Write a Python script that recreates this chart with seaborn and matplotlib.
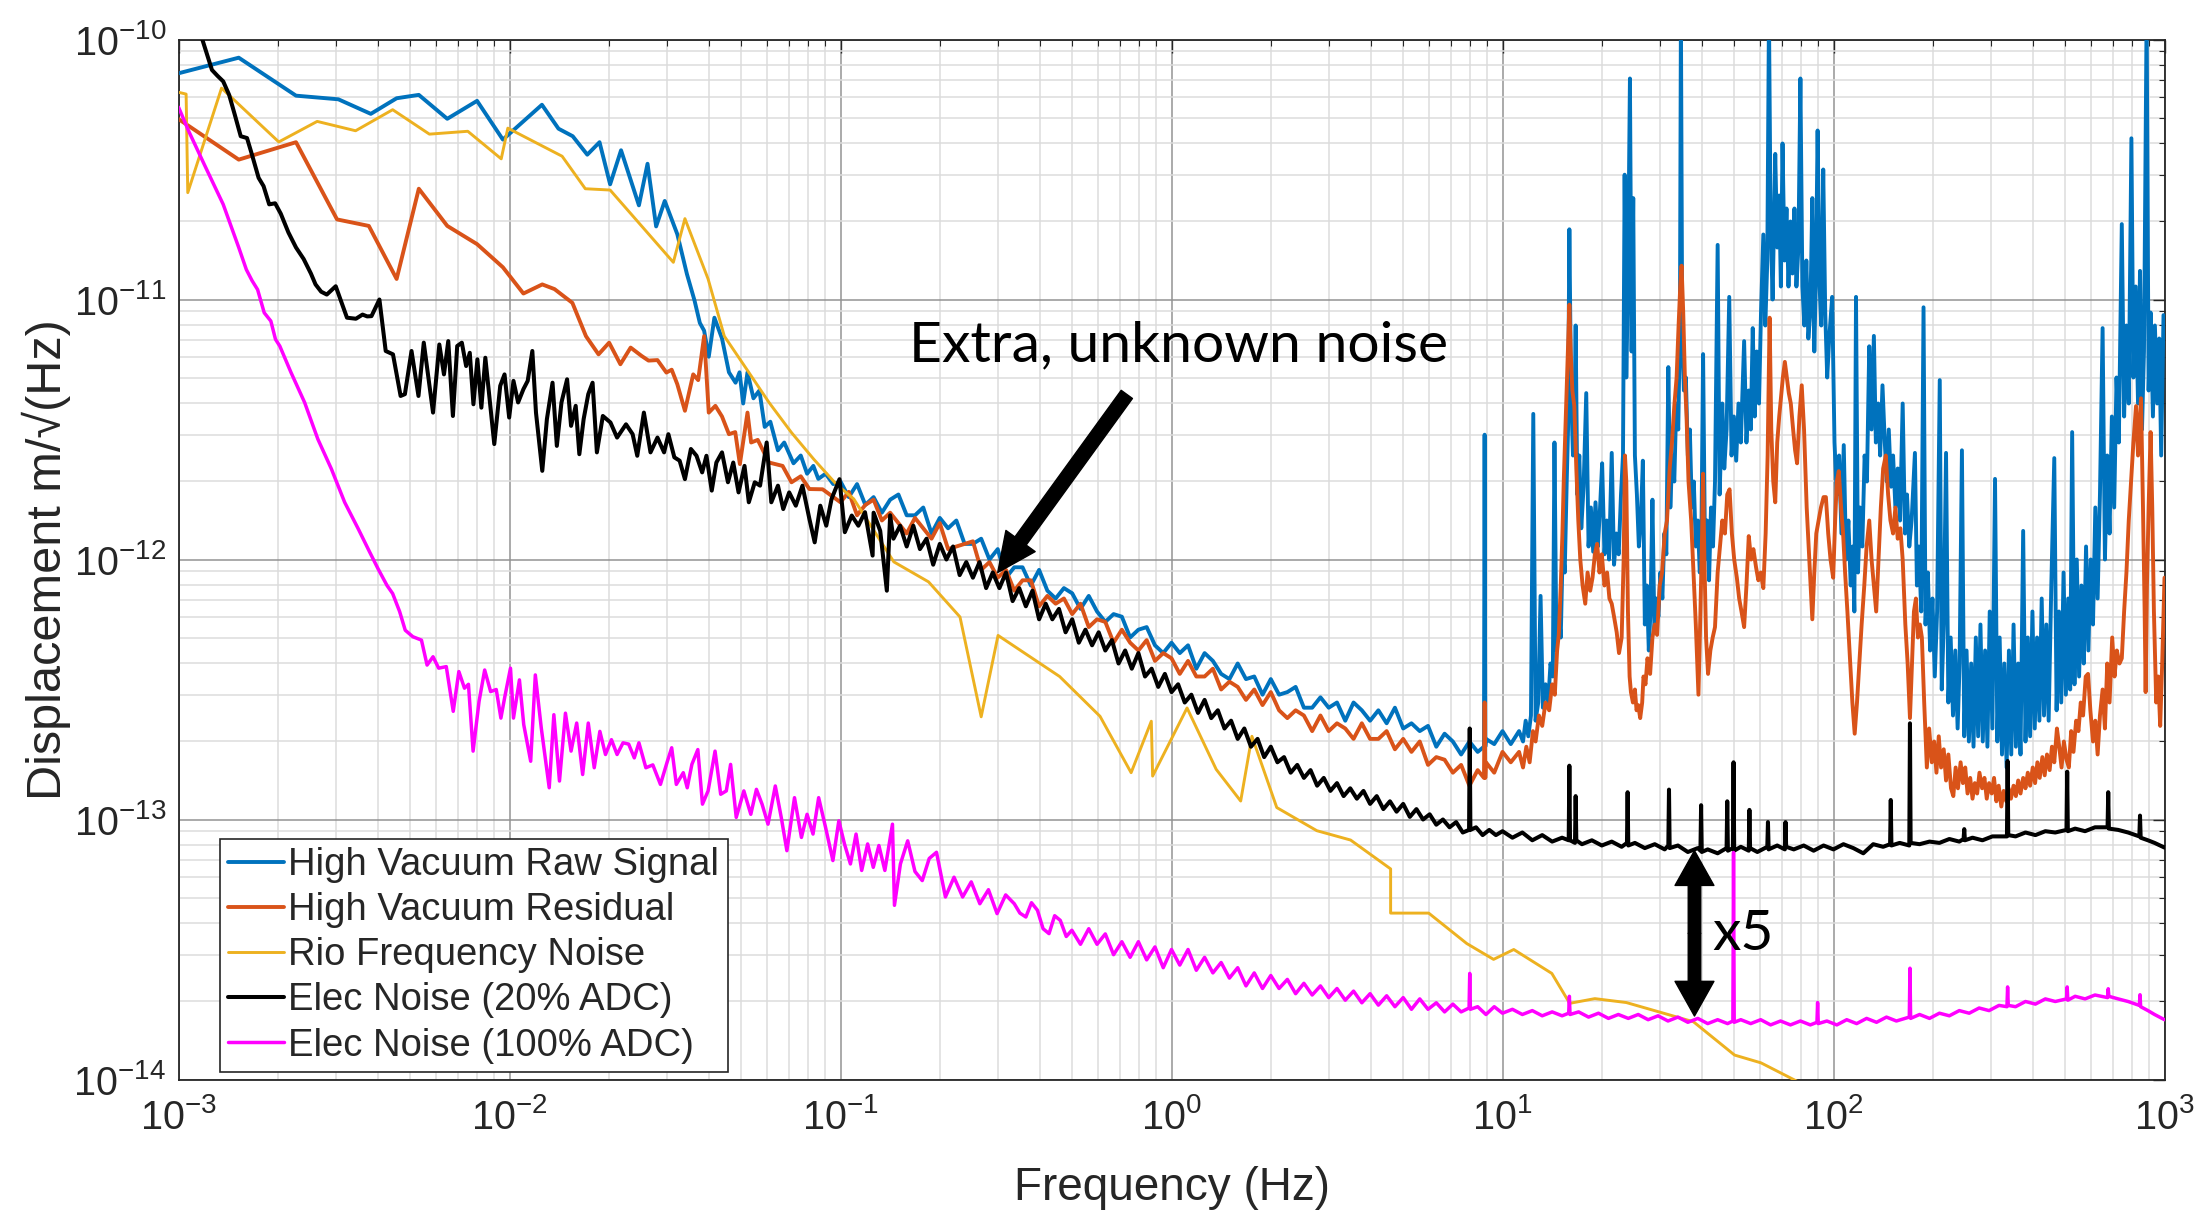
import numpy as np
import matplotlib
matplotlib.use("Agg")
import matplotlib.pyplot as plt
from matplotlib.patches import FancyArrowPatch
from matplotlib.ticker import LogLocator, LogFormatterSciNotation, NullFormatter
import seaborn as sns

# Spectra as (log10 frequency [Hz], log10 displacement [m/sqrt(Hz)]) pairs

raw_low = [(-3.000,-10.130),(-2.818,-10.070),(-2.645,-10.216),(-2.517,-10.230),(-2.419,-10.286),
    (-2.341,-10.226),(-2.274,-10.213),(-2.188,-10.305),(-2.098,-10.236),(-2.020,-10.385),(-1.902,-10.251),
    (-1.852,-10.343),(-1.809,-10.372),(-1.765,-10.443),(-1.728,-10.395),(-1.696,-10.557),(-1.663,-10.426),
    (-1.609,-10.638),(-1.583,-10.478),(-1.557,-10.719),(-1.531,-10.621),(-1.493,-10.749),(-1.464,-10.902),
    (-1.441,-11.004),(-1.425,-11.09),(-1.412,-11.12),(-1.398,-11.22),(-1.381,-11.07),(-1.358,-11.15),
    (-1.337,-11.28),(-1.317,-11.32),(-1.305,-11.28),(-1.294,-11.40),(-1.281,-11.28),(-1.263,-11.38),
    (-1.245,-11.35),(-1.229,-11.49),(-1.212,-11.47),(-1.189,-11.58),(-1.170,-11.55),(-1.142,-11.63),
    (-1.120,-11.60),(-1.101,-11.67),(-1.082,-11.64),(-1.067,-11.69),(-1.045,-11.67),(-1.022,-11.71)]

raw_mid = [(-1.000,-11.70),(-0.975,-11.76),(-0.950,-11.71),(-0.925,-11.79),(-0.900,-11.76),(-0.875,-11.82),
    (-0.850,-11.77),(-0.825,-11.75),(-0.800,-11.83),(-0.775,-11.83),(-0.750,-11.80),(-0.725,-11.90),
    (-0.700,-11.84),(-0.675,-11.88),(-0.650,-11.85),(-0.625,-11.94),(-0.600,-11.94),(-0.575,-11.92),
    (-0.550,-12.00),(-0.525,-11.96),(-0.500,-12.07),(-0.475,-12.03),(-0.450,-12.03),(-0.425,-12.10),
    (-0.400,-12.04),(-0.375,-12.12),(-0.350,-12.15),(-0.325,-12.11),(-0.300,-12.13),(-0.275,-12.19),
    (-0.250,-12.14),(-0.225,-12.20),(-0.200,-12.24),(-0.175,-12.21),(-0.150,-12.22),(-0.125,-12.30),
    (-0.100,-12.27),(-0.075,-12.26),(-0.050,-12.33),(-0.025,-12.36),(0.000,-12.32),(0.025,-12.36),
    (0.050,-12.33),(0.075,-12.42),(0.100,-12.36),(0.125,-12.39),(0.150,-12.44),(0.175,-12.46),
    (0.200,-12.40),(0.225,-12.46),(0.250,-12.45),(0.275,-12.52),(0.300,-12.46),(0.325,-12.52),
    (0.350,-12.51),(0.375,-12.49),(0.400,-12.57),(0.425,-12.57),(0.450,-12.53),(0.475,-12.57),
    (0.500,-12.55),(0.525,-12.62),(0.550,-12.55),(0.575,-12.58),(0.600,-12.62),(0.625,-12.58),
    (0.650,-12.63),(0.675,-12.57),(0.700,-12.65),(0.725,-12.63),(0.750,-12.66),(0.775,-12.64),
    (0.800,-12.72),(0.825,-12.67),(0.850,-12.70),(0.875,-12.75),(0.900,-12.70),(0.925,-12.74),
    (0.944,-12.72),(0.946,-11.52),(0.948,-12.72),(0.950,-12.69),(0.975,-12.71),(1.000,-12.66),
    (1.025,-12.71),(1.050,-12.66)]

raw_high = [(1.062,-12.70),(1.070,-12.62),(1.078,-12.68),(1.086,-12.60),(1.093,-11.44),(1.100,-12.62),
    (1.108,-12.55),(1.115,-12.14),(1.122,-12.57),(1.130,-12.48),(1.138,-12.55),(1.145,-12.40),(1.152,-12.45),
    (1.157,-11.55),(1.163,-12.35),(1.170,-12.20),(1.176,-12.30),(1.182,-11.95),(1.188,-12.05),(1.194,-11.70),
    (1.198,-11.50),(1.202,-10.73),(1.207,-11.35),(1.213,-11.60),(1.218,-11.40),(1.221,-11.10),(1.226,-11.75),
    (1.232,-11.60),(1.238,-11.88),(1.245,-11.72),(1.253,-11.36),(1.260,-11.95),(1.267,-11.80),(1.274,-11.97),
    (1.281,-11.78),(1.288,-11.95),(1.294,-11.82),(1.301,-11.63),(1.308,-11.98),(1.315,-11.85),(1.322,-12.00),
    (1.330,-11.59),(1.337,-12.02),(1.344,-11.90),(1.351,-11.98),(1.358,-11.75),(1.364,-11.60),(1.369,-10.52),
    (1.374,-11.30),(1.379,-10.95),(1.385,-10.15),(1.390,-11.20),(1.395,-10.61),(1.400,-11.60),(1.406,-11.75),
    (1.412,-11.95),(1.418,-11.85),(1.424,-11.62),(1.430,-12.25),(1.436,-12.10),(1.442,-12.35),(1.447,-12.20),
    (1.453,-11.77),(1.459,-12.28),(1.465,-12.15),(1.471,-12.22),(1.477,-12.05),(1.483,-12.15),(1.489,-11.90),
    (1.495,-11.98),(1.501,-11.26),(1.507,-11.80),(1.513,-11.60),(1.519,-11.70),(1.525,-11.40),(1.531,-11.50),
    (1.536,-11.10),(1.539,-9.90),(1.543,-11.15),(1.548,-11.35),(1.554,-11.30),(1.560,-11.60),(1.566,-11.50),
    (1.572,-11.80),(1.578,-11.70),(1.584,-11.95),(1.590,-11.85),(1.596,-12.05),(1.601,-11.90),(1.606,-11.21),
    (1.612,-12.00),(1.618,-11.85),(1.624,-12.08),(1.630,-11.80),(1.636,-11.95),(1.642,-11.70),(1.650,-10.79),
    (1.656,-11.75),(1.664,-11.40),(1.670,-11.65),(1.677,-11.50),(1.685,-10.99),(1.692,-11.60),(1.699,-11.45),
    (1.706,-11.62),(1.713,-11.40),(1.720,-11.55),(1.730,-11.16),(1.737,-11.55),(1.744,-11.35),(1.750,-11.50),
    (1.756,-11.11),(1.762,-11.45),(1.768,-11.20),(1.775,-11.40),(1.781,-11.05),(1.788,-10.75),(1.794,-11.10),
    (1.800,-10.85),(1.805,-9.90),(1.810,-10.70),(1.816,-11.00),(1.824,-10.44),(1.830,-10.80),(1.836,-10.60),
    (1.841,-10.95),(1.846,-10.40),(1.852,-10.85),(1.858,-10.65),(1.864,-10.95),(1.870,-10.70),(1.876,-10.90),
    (1.882,-10.65),(1.888,-10.95),(1.894,-10.80),(1.900,-10.15),(1.906,-10.95),(1.912,-11.10),(1.918,-10.85),
    (1.924,-11.15),(1.930,-11.05),(1.936,-10.61),(1.942,-11.20),(1.947,-10.90),(1.952,-10.35),(1.958,-10.95),
    (1.963,-11.10),(1.969,-10.50),(1.975,-11.05),(1.981,-11.30),(1.987,-11.15),(1.996,-10.99),(2.003,-11.55),
    (2.010,-11.75),(2.017,-11.60),(2.024,-11.90),(2.031,-11.56),(2.038,-12.00),(2.045,-11.85),(2.052,-12.10),
    (2.058,-11.95),(2.063,-12.20),(2.068,-10.99),(2.074,-12.05),(2.080,-11.80),(2.087,-11.95),(2.094,-11.60),
    (2.101,-11.70),(2.108,-11.18),(2.115,-11.50),(2.122,-11.14),(2.128,-11.55),(2.135,-11.40),(2.141,-11.60),
    (2.148,-11.33),(2.155,-11.55),(2.161,-11.70),(2.167,-11.50),(2.174,-11.72),(2.180,-11.60),(2.187,-11.80),
    (2.194,-11.65),(2.201,-11.85),(2.209,-11.40),(2.216,-11.90),(2.222,-11.75),(2.229,-11.95),(2.236,-11.85),
    (2.246,-11.59),(2.252,-12.10),(2.258,-11.95),(2.265,-12.20),(2.272,-11.03),(2.278,-12.25),(2.285,-12.05),
    (2.292,-12.35),(2.299,-12.15),(2.306,-12.45),(2.313,-12.20),(2.321,-11.31),(2.327,-12.50),(2.333,-12.25),
    (2.340,-11.59),(2.347,-12.55),(2.354,-12.30),(2.361,-12.60),(2.368,-12.35),(2.375,-12.65),(2.381,-12.40),
    (2.388,-11.58),(2.395,-12.68),(2.402,-12.35),(2.409,-12.70),(2.416,-12.40),(2.423,-12.72),(2.430,-12.30),
    (2.437,-12.68),(2.444,-12.25),(2.451,-12.70),(2.458,-12.35),(2.465,-12.72),(2.472,-12.20),(2.480,-12.65),
    (2.488,-11.69),(2.495,-12.70),(2.502,-12.30),(2.509,-12.75),(2.516,-12.40),(2.523,-12.80),(2.530,-12.35),
    (2.537,-12.75),(2.544,-12.25),(2.551,-12.72),(2.558,-12.40),(2.565,-12.75),(2.573,-11.89),(2.580,-12.70),
    (2.587,-12.30),(2.594,-12.68),(2.601,-12.20),(2.608,-12.65),(2.615,-12.30),(2.622,-12.62),(2.629,-12.15),
    (2.636,-12.60),(2.643,-12.25),(2.650,-12.62),(2.658,-12.10),(2.667,-11.61),(2.674,-12.58),(2.681,-12.20),
    (2.688,-12.55),(2.695,-12.05),(2.702,-12.52),(2.709,-12.15),(2.715,-12.50),(2.721,-11.51),(2.728,-12.48),
    (2.735,-12.00),(2.742,-12.45),(2.749,-12.10),(2.756,-12.40),(2.763,-11.95),(2.770,-12.35),(2.777,-12.00),
    (2.784,-12.25),(2.791,-11.80),(2.798,-12.15),(2.805,-11.75),(2.813,-11.11),(2.820,-12.00),(2.827,-11.60),
    (2.834,-11.90),(2.841,-11.45),(2.848,-11.80),(2.855,-11.30),(2.862,-11.55),(2.871,-10.71),(2.878,-11.45),
    (2.885,-11.10),(2.892,-11.40),(2.900,-10.38),(2.906,-11.30),(2.913,-10.95),(2.920,-11.40),(2.926,-10.89),
    (2.932,-11.50),(2.938,-11.20),(2.946,-9.90),(2.952,-11.35),(2.958,-11.05),(2.965,-11.45),(2.971,-11.10),
    (2.978,-11.40),(2.984,-11.15),(2.990,-11.60),(2.997,-11.06)]

resid_low = [(-3.000,-10.306),(-2.818,-10.462),(-2.645,-10.395),(-2.521,-10.692),(-2.425,-10.717),
    (-2.341,-10.921),(-2.274,-10.574),(-2.188,-10.717),(-2.098,-10.787),(-2.020,-10.876),(-1.958,-10.977),
    (-1.901,-10.942),(-1.864,-10.96),(-1.810,-11.013),(-1.769,-11.141),(-1.731,-11.211),(-1.699,-11.166),
    (-1.665,-11.249),(-1.634,-11.185),(-1.601,-11.217),(-1.580,-11.235),(-1.553,-11.233),(-1.526,-11.281),
    (-1.510,-11.27),(-1.493,-11.326),(-1.470,-11.428),(-1.445,-11.288),(-1.430,-11.31),(-1.412,-11.141),
    (-1.398,-11.435),(-1.378,-11.409),(-1.358,-11.45),(-1.337,-11.518),(-1.318,-11.51),(-1.304,-11.633),
    (-1.281,-11.435),(-1.270,-11.550),(-1.250,-11.54),(-1.216,-11.627),(-1.175,-11.64),(-1.148,-11.703),
    (-1.120,-11.68),(-1.094,-11.729),(-1.054,-11.73)]

resid_mid = [(-1.000,-11.78),(-0.975,-11.74),(-0.950,-11.83),(-0.925,-11.79),(-0.900,-11.77),(-0.875,-11.85),
    (-0.850,-11.82),(-0.825,-11.86),(-0.800,-11.90),(-0.775,-11.84),(-0.750,-11.88),(-0.725,-11.92),
    (-0.700,-11.86),(-0.675,-11.96),(-0.650,-11.95),(-0.625,-11.94),(-0.600,-11.93),(-0.575,-12.04),
    (-0.550,-12.01),(-0.525,-12.07),(-0.500,-12.04),(-0.475,-12.12),(-0.450,-12.08),(-0.425,-12.08),
    (-0.400,-12.18),(-0.375,-12.14),(-0.350,-12.17),(-0.325,-12.15),(-0.300,-12.21),(-0.275,-12.17),
    (-0.250,-12.26),(-0.225,-12.23),(-0.200,-12.24),(-0.175,-12.32),(-0.150,-12.27),(-0.125,-12.32),
    (-0.100,-12.35),(-0.075,-12.31),(-0.050,-12.39),(-0.025,-12.36),(0.000,-12.38),(0.025,-12.44),
    (0.050,-12.39),(0.075,-12.45),(0.100,-12.45),(0.125,-12.42),(0.150,-12.50),(0.175,-12.47),
    (0.200,-12.49),(0.225,-12.54),(0.250,-12.50),(0.275,-12.56),(0.300,-12.51),(0.325,-12.58),
    (0.350,-12.61),(0.375,-12.58),(0.400,-12.60),(0.425,-12.66),(0.450,-12.60),(0.475,-12.66),
    (0.500,-12.63),(0.525,-12.65),(0.550,-12.69),(0.575,-12.63),(0.600,-12.69),(0.625,-12.69),
    (0.650,-12.66),(0.675,-12.73),(0.700,-12.69),(0.725,-12.74),(0.750,-12.70),(0.775,-12.79),
    (0.800,-12.76),(0.825,-12.77),(0.850,-12.82),(0.875,-12.79),(0.900,-12.87),(0.925,-12.81),
    (0.944,-12.84),(0.946,-12.55),(0.948,-12.84),(0.950,-12.78),(0.975,-12.82),(1.000,-12.74),
    (1.025,-12.78),(1.050,-12.74)]

resid_high = [(1.062,-12.80),(1.072,-12.72),(1.082,-12.78),(1.092,-12.66),(1.100,-12.70),(1.110,-12.60),
    (1.120,-12.64),(1.130,-12.55),(1.141,-12.58),(1.150,-12.48),(1.158,-12.52),(1.165,-12.35),(1.170,-12.29),
    (1.176,-12.10),(1.181,-11.90),(1.185,-11.70),(1.190,-11.50),(1.195,-11.30),(1.199,-11.15),(1.202,-11.02),
    (1.206,-11.20),(1.211,-11.35),(1.217,-11.41),(1.223,-11.65),(1.229,-11.85),(1.235,-12.00),(1.242,-12.10),
    (1.250,-12.17),(1.257,-12.05),(1.265,-12.12),(1.272,-12.07),(1.279,-11.98),(1.286,-11.94),(1.293,-12.05),
    (1.300,-11.98),(1.308,-12.10),(1.316,-12.05),(1.323,-12.15),(1.330,-12.17),(1.337,-12.22),(1.345,-12.28),
    (1.352,-12.36),(1.360,-12.30),(1.366,-12.00),(1.370,-11.60),(1.374,-11.70),(1.379,-12.20),(1.384,-12.45),
    (1.388,-12.51),(1.394,-12.55),(1.400,-12.50),(1.405,-12.58),(1.410,-12.56),(1.416,-12.61),(1.422,-12.55),
    (1.426,-12.45),(1.432,-12.48),(1.438,-12.38),(1.446,-12.44),(1.453,-12.30),(1.460,-12.25),(1.467,-12.29),
    (1.475,-12.10),(1.482,-12.05),(1.490,-11.90),(1.497,-11.85),(1.505,-11.65),(1.512,-11.55),(1.519,-11.41),
    (1.526,-11.30),(1.532,-11.10),(1.537,-10.95),(1.541,-10.87),(1.546,-11.05),(1.551,-11.30),(1.556,-11.45),
    (1.562,-11.70),(1.570,-11.85),(1.577,-12.05),(1.584,-12.25),(1.592,-12.52),(1.598,-12.20),(1.603,-11.90),
    (1.606,-11.67),(1.610,-12.00),(1.615,-12.30),(1.621,-12.44),(1.628,-12.35),(1.635,-12.30),(1.642,-12.26),
    (1.650,-12.05),(1.657,-11.95),(1.664,-11.85),(1.672,-11.90),(1.679,-11.75),(1.686,-11.73),(1.693,-11.90),
    (1.700,-12.00),(1.708,-12.07),(1.715,-12.15),(1.722,-12.20),(1.730,-12.26),(1.737,-12.10),(1.744,-11.91),
    (1.751,-12.00),(1.758,-11.96),(1.766,-12.03),(1.773,-12.08),(1.780,-12.05),(1.788,-12.11),(1.795,-11.90),
    (1.801,-11.60),(1.807,-11.07),(1.812,-11.50),(1.818,-11.70),(1.824,-11.78),(1.830,-11.55),(1.836,-11.45),
    (1.841,-11.38),(1.847,-11.30),(1.853,-11.24),(1.859,-11.30),(1.865,-11.36),(1.871,-11.40),(1.878,-11.50),
    (1.884,-11.58),(1.890,-11.63),(1.897,-11.45),(1.904,-11.33),(1.911,-11.50),(1.919,-11.80),(1.925,-11.95),
    (1.931,-12.10),(1.936,-12.23),(1.942,-12.05),(1.948,-11.90),(1.955,-11.85),(1.962,-11.80),(1.970,-11.76),
    (1.977,-11.76),(1.984,-11.90),(1.991,-12.00),(1.999,-12.07),(2.005,-11.85),(2.010,-11.70),(2.016,-11.66),
    (2.023,-11.80),(2.029,-11.90),(2.035,-12.05),(2.042,-12.20),(2.049,-12.36),(2.057,-12.55),(2.064,-12.67),
    (2.071,-12.55),(2.078,-12.40),(2.085,-12.25),(2.093,-12.10),(2.100,-11.95),(2.108,-11.85),(2.115,-12.00),
    (2.122,-12.10),(2.129,-12.20),(2.136,-12.00),(2.143,-11.80),(2.150,-11.65),(2.158,-11.60),(2.165,-11.75),
    (2.172,-11.85),(2.180,-11.90),(2.187,-11.80),(2.194,-11.92),(2.202,-11.88),(2.209,-12.00),(2.217,-12.25),
    (2.224,-12.40),(2.231,-12.61),(2.237,-12.40),(2.243,-12.20),(2.249,-12.15),(2.255,-12.30),(2.261,-12.25),
    (2.267,-12.30),(2.274,-12.55),(2.282,-12.80),(2.289,-12.65),(2.297,-12.78),(2.304,-12.70),(2.311,-12.82),
    (2.318,-12.68),(2.325,-12.80),(2.333,-12.73),(2.340,-12.85),(2.347,-12.75),(2.355,-12.88),(2.362,-12.91),
    (2.369,-12.80),(2.376,-12.88),(2.384,-12.78),(2.391,-12.86),(2.398,-12.80),(2.405,-12.90),(2.413,-12.84),
    (2.420,-12.92),(2.427,-12.86),(2.434,-12.90),(2.441,-12.82),(2.449,-12.88),(2.456,-12.84),(2.463,-12.92),
    (2.470,-12.86),(2.478,-12.90),(2.485,-12.84),(2.492,-12.93),(2.499,-12.87),(2.507,-12.95),(2.514,-12.89),
    (2.522,-12.93),(2.529,-12.88),(2.536,-12.92),(2.544,-12.87),(2.551,-12.91),(2.558,-12.85),(2.565,-12.90),
    (2.573,-12.84),(2.580,-12.88),(2.587,-12.82),(2.594,-12.87),(2.602,-12.80),(2.609,-12.86),(2.616,-12.78),
    (2.623,-12.84),(2.631,-12.76),(2.638,-12.83),(2.645,-12.75),(2.653,-12.81),(2.660,-12.72),(2.667,-12.78),
    (2.675,-12.65),(2.682,-12.72),(2.689,-12.80),(2.696,-12.70),(2.704,-12.77),(2.711,-12.80),(2.718,-12.66),
    (2.725,-12.74),(2.733,-12.62),(2.740,-12.66),(2.747,-12.55),(2.754,-12.60),(2.762,-12.45),(2.769,-12.44),
    (2.776,-12.58),(2.784,-12.70),(2.791,-12.62),(2.798,-12.75),(2.805,-12.60),(2.813,-12.50),(2.820,-12.65),
    (2.827,-12.40),(2.834,-12.55),(2.842,-12.30),(2.849,-12.45),(2.856,-12.35),(2.864,-12.40),(2.871,-12.38),
    (2.878,-12.20),(2.885,-12.05),(2.892,-11.85),(2.899,-11.70),(2.906,-11.55),(2.914,-11.41),(2.920,-11.60),
    (2.929,-11.38),(2.935,-11.80),(2.940,-12.20),(2.943,-12.51),(2.947,-12.10),(2.952,-11.80),(2.958,-11.51),
    (2.963,-11.80),(2.968,-12.20),(2.975,-12.55),(2.981,-12.45),(2.987,-12.64),(2.993,-12.40),(3.000,-12.07)]

rio_pts = [(-3.000,-10.203),(-2.977,-10.210),(-2.972,-10.589),(-2.870,-10.187),(-2.697,-10.394),
    (-2.581,-10.315),(-2.465,-10.351),(-2.353,-10.270),(-2.242,-10.364),(-2.126,-10.353),(-2.025,-10.459),
    (-2.005,-10.341),(-1.841,-10.449),(-1.771,-10.574),(-1.696,-10.579),(-1.505,-10.857),(-1.470,-10.689),
    (-1.400,-10.921),(-1.351,-11.141),(-1.283,-11.269),(-1.216,-11.396),(-1.148,-11.512),(-1.081,-11.614),
    (-1.013,-11.710),(-0.960,-11.767),(-0.839,-12.009),(-0.734,-12.086),(-0.639,-12.221),(-0.575,-12.605),
    (-0.524,-12.292),(-0.338,-12.450),(-0.216,-12.603),(-0.122,-12.820),(-0.061,-12.622),(-0.057,-12.833),
    (0.047,-12.571),(0.135,-12.807),(0.209,-12.929),(0.243,-12.680),(0.318,-12.954),(0.439,-13.043),
    (0.541,-13.079),(0.662,-13.190),(0.662,-13.360),(0.777,-13.360),(0.892,-13.477),(0.973,-13.538),
    (1.034,-13.500),(1.149,-13.592),(1.203,-13.707),(1.279,-13.689),(1.374,-13.704),(1.577,-13.778),
    (1.701,-13.906),(1.781,-13.936),(1.910,-14.02)]

elec20_low = [(-3.000,-9.72),(-2.928,-10.0),(-2.899,-10.117),(-2.882,-10.14),(-2.865,-10.161),(-2.847,-10.213),
    (-2.830,-10.289),(-2.812,-10.372),(-2.793,-10.379),(-2.778,-10.443),(-2.758,-10.532),(-2.743,-10.564),
    (-2.726,-10.634),(-2.708,-10.63),(-2.691,-10.670),(-2.668,-10.742),(-2.645,-10.800),(-2.622,-10.844),
    (-2.600,-10.90),(-2.586,-10.942),(-2.569,-10.97),(-2.552,-10.981),(-2.525,-10.949),(-2.491,-11.070),
    (-2.464,-11.074),(-2.444,-11.058),(-2.430,-11.065),(-2.417,-11.064),(-2.393,-11.0),(-2.374,-11.198),
    (-2.352,-11.211),(-2.329,-11.371),(-2.316,-11.364),(-2.296,-11.198),(-2.275,-11.371),(-2.259,-11.166),
    (-2.231,-11.435),(-2.212,-11.173),(-2.198,-11.288),(-2.185,-11.160),(-2.171,-11.448),(-2.158,-11.179),
    (-2.144,-11.166),(-2.131,-11.256),(-2.120,-11.205),(-2.109,-11.403),(-2.097,-11.230),(-2.085,-11.416),
    (-2.073,-11.224),(-2.059,-11.396),(-2.046,-11.556),(-2.028,-11.332),(-2.015,-11.288),(-2.001,-11.454),
    (-1.988,-11.313),(-1.974,-11.396),(-1.958,-11.345),(-1.945,-11.313),(-1.931,-11.198),(-1.920,-11.435),
    (-1.901,-11.659),(-1.887,-11.460),(-1.870,-11.320),(-1.857,-11.563),(-1.843,-11.396),(-1.826,-11.307),
    (-1.814,-11.486),(-1.800,-11.409),(-1.789,-11.595),(-1.776,-11.460),(-1.762,-11.364),(-1.749,-11.320),
    (-1.736,-11.588),(-1.718,-11.448),(-1.695,-11.473),(-1.675,-11.531),(-1.648,-11.480),(-1.628,-11.518),
    (-1.614,-11.601),(-1.594,-11.435),(-1.574,-11.588),(-1.553,-11.531),(-1.533,-11.588),(-1.520,-11.518),
    (-1.502,-11.607),(-1.486,-11.620),(-1.470,-11.691),(-1.452,-11.575),(-1.435,-11.601),(-1.418,-11.665),
    (-1.405,-11.601),(-1.389,-11.735),(-1.375,-11.627),(-1.358,-11.588),(-1.340,-11.703),(-1.324,-11.627),
    (-1.308,-11.742),(-1.290,-11.640),(-1.277,-11.780),(-1.259,-11.703),(-1.243,-11.716),(-1.223,-11.550),
    (-1.209,-11.780),(-1.189,-11.716),(-1.173,-11.806),(-1.155,-11.742),(-1.135,-11.793),(-1.115,-11.716),
    (-1.094,-11.844),(-1.078,-11.934),(-1.061,-11.793),(-1.043,-11.870),(-1.027,-11.767),(-1.003,-11.691),
    (-0.987,-11.895),(-0.966,-11.831),(-0.946,-11.870),(-0.926,-11.818),(-0.903,-11.985)]

elec20_mid = [(-0.90,-11.82),(-0.88,-11.89),(-0.86,-12.12),(-0.85,-11.83),(-0.84,-11.92),(-0.82,-11.87),
    (-0.80,-11.95),(-0.78,-11.87),(-0.76,-11.96),(-0.74,-11.92),(-0.72,-12.02),(-0.70,-11.94),(-0.68,-12.00),
    (-0.66,-11.95),(-0.64,-12.06),(-0.62,-12.01),(-0.60,-12.07),(-0.58,-12.01),(-0.56,-12.11),(-0.54,-12.05),
    (-0.52,-12.11),(-0.50,-12.05),(-0.48,-12.16),(-0.46,-12.11),(-0.44,-12.18),(-0.42,-12.12),(-0.40,-12.23),
    (-0.38,-12.17),(-0.36,-12.23),(-0.34,-12.19),(-0.32,-12.28),(-0.30,-12.23),(-0.28,-12.32),(-0.26,-12.27),
    (-0.24,-12.33),(-0.22,-12.28),(-0.20,-12.35),(-0.18,-12.31),(-0.16,-12.40),(-0.14,-12.35),(-0.12,-12.42),
    (-0.10,-12.36),(-0.08,-12.45),(-0.06,-12.42),(-0.04,-12.49),(-0.02,-12.44),(0.00,-12.51),(0.02,-12.48),
    (0.04,-12.55),(0.06,-12.52),(0.08,-12.59),(0.10,-12.54),(0.12,-12.61),(0.14,-12.58),(0.16,-12.65),
    (0.18,-12.62),(0.20,-12.69),(0.22,-12.65),(0.24,-12.72),(0.26,-12.69),(0.28,-12.76),(0.30,-12.72),
    (0.32,-12.78),(0.34,-12.76),(0.36,-12.82),(0.38,-12.79),(0.40,-12.84),(0.42,-12.81),(0.44,-12.87),
    (0.46,-12.84),(0.48,-12.89),(0.50,-12.86),(0.52,-12.91),(0.54,-12.88),(0.56,-12.92),(0.58,-12.89),
    (0.60,-12.94),(0.62,-12.91),(0.64,-12.96),(0.66,-12.93),(0.68,-12.97),(0.70,-12.94),(0.72,-12.99),
    (0.74,-12.96),(0.76,-13.00),(0.78,-12.98),(0.80,-13.02),(0.82,-13.00),(0.84,-13.03),(0.86,-13.01),
    (0.88,-13.05),(0.899,-13.04),(0.901,-12.65),(0.903,-13.04),(0.92,-13.03),(0.94,-13.06),(0.96,-13.04),
    (0.98,-13.06),(1.00,-13.045)]

elec20_high = [(1.03,-13.07),(1.06,-13.05),(1.09,-13.08),(1.12,-13.06),(1.15,-13.085),(1.18,-13.07),
    (1.200,-13.08),(1.202,-12.793),(1.204,-13.08),(1.219,-13.09),(1.221,-12.91),(1.223,-13.08),(1.24,-13.095),
    (1.27,-13.08),(1.30,-13.10),(1.33,-13.085),(1.36,-13.105),(1.376,-13.09),(1.378,-12.895),(1.380,-13.10),
    (1.40,-13.09),(1.43,-13.11),(1.46,-13.095),(1.49,-13.115),(1.501,-13.10),(1.503,-12.885),(1.505,-13.11),
    (1.53,-13.10),(1.56,-13.125),(1.59,-13.11),(1.598,-13.12),(1.600,-12.945),(1.602,-13.125),(1.62,-13.115),
    (1.65,-13.13),(1.677,-13.11),(1.679,-12.93),(1.681,-13.12),(1.696,-13.11),(1.698,-12.78),(1.700,-13.12),
    (1.72,-13.105),(1.744,-13.12),(1.746,-12.963),(1.748,-13.11),(1.77,-13.125),(1.800,-13.105),(1.802,-13.01),
    (1.804,-13.115),(1.83,-13.10),(1.853,-13.115),(1.855,-13.01),(1.857,-13.105),(1.88,-13.115),(1.91,-13.10),
    (1.94,-13.12),(1.97,-13.10),(2.00,-13.115),(2.03,-13.095),(2.06,-13.11),(2.09,-13.13),(2.12,-13.095),
    (2.15,-13.105),(2.171,-13.095),(2.173,-12.925),(2.175,-13.10),(2.20,-13.09),(2.229,-13.10),(2.231,-12.63),
    (2.233,-13.09),(2.26,-13.095),(2.29,-13.085),(2.32,-13.09),(2.35,-13.075),(2.38,-13.085),(2.393,-13.075),
    (2.395,-13.037),(2.397,-13.08),(2.42,-13.07),(2.45,-13.08),(2.48,-13.065),(2.524,-13.065),(2.526,-12.775),
    (2.528,-13.06),(2.55,-13.065),(2.58,-13.05),(2.61,-13.06),(2.64,-13.045),(2.67,-13.05),(2.704,-13.04),
    (2.706,-12.816),(2.708,-13.045),(2.73,-13.035),(2.76,-13.045),(2.79,-13.03),(2.828,-13.03),(2.830,-12.895),
    (2.832,-13.035),(2.86,-13.04),(2.89,-13.05),(2.924,-13.065),(2.926,-12.985),(2.928,-13.07),(2.95,-13.08),
    (2.97,-13.09),(3.00,-13.108)]

elec100_low = [(-3.000,-10.260),(-2.969,-10.353),(-2.922,-10.481),(-2.865,-10.634),(-2.818,-10.800),
    (-2.795,-10.885),(-2.778,-10.927),(-2.761,-10.962),(-2.741,-11.051),(-2.721,-11.083),(-2.707,-11.153),
    (-2.694,-11.179),(-2.660,-11.281),(-2.619,-11.396),(-2.579,-11.537),(-2.538,-11.652),(-2.498,-11.780),
    (-2.457,-11.882),(-2.423,-11.97),(-2.397,-12.036),(-2.370,-12.10),(-2.353,-12.131),(-2.332,-12.20),
    (-2.315,-12.272),(-2.292,-12.297),(-2.266,-12.310),(-2.249,-12.406),(-2.231,-12.374),(-2.214,-12.418),
    (-2.191,-12.412),(-2.170,-12.584),(-2.153,-12.431),(-2.136,-12.495),(-2.124,-12.48),(-2.110,-12.737),
    (-2.092,-12.546),(-2.075,-12.425),(-2.057,-12.508),(-2.040,-12.50),(-2.026,-12.610),(-2.014,-12.527),
    (-1.997,-12.418),(-1.988,-12.610),(-1.970,-12.463),(-1.957,-12.635),(-1.936,-12.776),(-1.922,-12.444),
    (-1.904,-12.648),(-1.880,-12.878),(-1.866,-12.597),(-1.849,-12.852),(-1.831,-12.591),(-1.814,-12.737),
    (-1.797,-12.629),(-1.779,-12.827),(-1.762,-12.629),(-1.744,-12.801),(-1.727,-12.661),(-1.710,-12.750),
    (-1.692,-12.693),(-1.675,-12.75),(-1.657,-12.705),(-1.640,-12.71),(-1.623,-12.763),(-1.609,-12.705),
    (-1.588,-12.801),(-1.567,-12.79),(-1.544,-12.865),(-1.523,-12.776),(-1.510,-12.724),(-1.496,-12.865),
    (-1.475,-12.82),(-1.463,-12.878),(-1.449,-12.788),(-1.431,-12.731),(-1.417,-12.941),(-1.400,-12.890),
    (-1.379,-12.737),(-1.362,-12.903),(-1.345,-12.89),(-1.332,-12.788),(-1.315,-12.992),(-1.292,-12.890),
    (-1.271,-12.980),(-1.254,-12.884),(-1.237,-12.941),(-1.219,-13.018),(-1.197,-12.871),(-1.179,-12.992),
    (-1.162,-13.120),(-1.139,-12.916),(-1.118,-13.069),(-1.101,-12.980),(-1.083,-13.056),(-1.066,-12.916),
    (-1.045,-13.031),(-1.023,-13.158),(-1.005,-13.005),(-0.988,-13.094),(-0.970,-13.171),(-0.953,-13.056),
    (-0.936,-13.196),(-0.918,-13.094),(-0.901,-13.184),(-0.884,-13.10),(-0.866,-13.196),(-0.843,-13.018),
    (-0.837,-13.330),(-0.819,-13.171),(-0.797,-13.082),(-0.775,-13.20),(-0.753,-13.235),(-0.732,-13.15),
    (-0.710,-13.126),(-0.683,-13.298),(-0.657,-13.222),(-0.631,-13.298),(-0.605,-13.24),(-0.579,-13.324),
    (-0.553,-13.27),(-0.527,-13.362),(-0.501,-13.29),(-0.475,-13.324),(-0.458,-13.36),(-0.440,-13.375),
    (-0.423,-13.32),(-0.405,-13.349),(-0.388,-13.42),(-0.370,-13.439),(-0.353,-13.37),(-0.336,-13.388),
    (-0.318,-13.45),(-0.301,-13.426)]

elec100_high = [(-0.275,-13.48),(-0.250,-13.42),(-0.225,-13.48),(-0.200,-13.44),(-0.175,-13.52),
    (-0.150,-13.47),(-0.125,-13.53),(-0.100,-13.47),(-0.075,-13.54),(-0.050,-13.49),(-0.025,-13.57),
    (0.000,-13.50),(0.025,-13.56),(0.050,-13.50),(0.075,-13.58),(0.100,-13.53),(0.125,-13.59),(0.150,-13.55),
    (0.175,-13.61),(0.200,-13.57),(0.225,-13.64),(0.250,-13.59),(0.275,-13.65),(0.300,-13.60),(0.325,-13.65),
    (0.350,-13.615),(0.375,-13.67),(0.400,-13.63),(0.425,-13.675),(0.450,-13.64),(0.475,-13.685),(0.500,-13.65),
    (0.525,-13.695),(0.550,-13.66),(0.575,-13.705),(0.600,-13.67),(0.625,-13.714),(0.650,-13.678),(0.675,-13.72),
    (0.700,-13.685),(0.725,-13.73),(0.750,-13.69),(0.775,-13.73),(0.800,-13.705),(0.825,-13.74),(0.850,-13.71),
    (0.875,-13.74),(0.899,-13.725),(0.901,-13.592),(0.903,-13.73),(0.925,-13.72),(0.950,-13.75),(0.975,-13.72),
    (1.000,-13.745),(1.03,-13.73),(1.06,-13.75),(1.09,-13.735),(1.12,-13.755),(1.15,-13.74),(1.18,-13.755),
    (1.200,-13.745),(1.202,-13.68),(1.204,-13.75),(1.23,-13.74),(1.26,-13.76),(1.29,-13.745),(1.32,-13.765),
    (1.35,-13.75),(1.38,-13.765),(1.41,-13.75),(1.44,-13.77),(1.47,-13.755),(1.50,-13.775),(1.53,-13.76),
    (1.56,-13.78),(1.59,-13.765),(1.62,-13.785),(1.65,-13.77),(1.68,-13.785),(1.696,-13.775),(1.698,-13.127),
    (1.700,-13.78),(1.72,-13.77),(1.75,-13.785),(1.78,-13.77),(1.81,-13.79),(1.84,-13.775),(1.87,-13.79),
    (1.90,-13.775),(1.93,-13.79),(1.950,-13.78),(1.952,-13.704),(1.954,-13.785),(1.98,-13.775),(2.01,-13.79),
    (2.04,-13.77),(2.07,-13.785),(2.10,-13.765),(2.13,-13.78),(2.16,-13.76),(2.19,-13.775),(2.229,-13.76),
    (2.231,-13.572),(2.233,-13.765),(2.26,-13.75),(2.29,-13.765),(2.32,-13.745),(2.35,-13.755),(2.38,-13.735),
    (2.41,-13.745),(2.44,-13.725),(2.47,-13.735),(2.50,-13.715),(2.524,-13.72),(2.526,-13.644),(2.528,-13.715),
    (2.55,-13.72),(2.58,-13.70),(2.61,-13.71),(2.64,-13.69),(2.67,-13.70),(2.704,-13.69),(2.706,-13.644),
    (2.708,-13.695),(2.73,-13.68),(2.76,-13.69),(2.79,-13.675),(2.828,-13.685),(2.830,-13.651),(2.832,-13.68),
    (2.86,-13.69),(2.89,-13.70),(2.924,-13.715),(2.926,-13.674),(2.928,-13.72),(2.95,-13.735),(2.97,-13.75),
    (3.00,-13.77)]

series_names = ["High Vacuum Raw Signal", "High Vacuum Residual", "Rio Frequency Noise",
                "Elec Noise (20% ADC)", "Elec Noise (100% ADC)"]
series_points = [raw_low + raw_mid + raw_high,
                 resid_low + resid_mid + resid_high,
                 rio_pts,
                 elec20_low + elec20_mid + elec20_high,
                 elec100_low + elec100_high]
series_colors = ["#0072BD", "#D95319", "#EDB120", "#000000", "#FF00FF"]
series_widths = [2.8, 2.8, 2.1, 2.9, 2.5]

# ---- style ----
sns.set_theme(style="white")
plt.rcParams["font.family"] = ["Liberation Sans", "DejaVu Sans"]
plt.rcParams["axes.unicode_minus"] = False
plt.rcParams["mathtext.fontset"] = "custom"
plt.rcParams["mathtext.rm"] = "Liberation Sans"
plt.rcParams["mathtext.it"] = "Liberation Sans:italic"
plt.rcParams["mathtext.bf"] = "Liberation Sans:bold"

W, H = 2204, 1214
fig = plt.figure(figsize=(W / 100, H / 100), dpi=100)
fig.patch.set_facecolor("white")
ax = fig.add_axes([178.5 / W, 1 - 1079.5 / H, 1986 / W, 1040 / H])
ax.set_facecolor("white")
ax.set_xscale("log")
ax.set_yscale("log")

for name, pts, col, lw, z in zip(series_names, series_points, series_colors, series_widths, range(5)):
    arr = np.array(pts, dtype=float)
    f = 10.0 ** arr[:, 0]
    a = 10.0 ** arr[:, 1]
    sns.lineplot(x=f, y=a, ax=ax, color=col, linewidth=lw, label=name,
                 sort=False, estimator=None, zorder=3 + z)

ax.set_xlim(1e-3, 1e3)
ax.set_ylim(1e-14, 1e-10)

axis_col = "#262626"
ax.xaxis.set_major_locator(LogLocator(base=10, numticks=20))
ax.yaxis.set_major_locator(LogLocator(base=10, numticks=20))
ax.xaxis.set_minor_locator(LogLocator(base=10, subs=np.arange(2, 10), numticks=40))
ax.yaxis.set_minor_locator(LogLocator(base=10, subs=np.arange(2, 10), numticks=40))
ax.xaxis.set_major_formatter(LogFormatterSciNotation())
ax.yaxis.set_major_formatter(LogFormatterSciNotation())
ax.xaxis.set_minor_formatter(NullFormatter())
ax.yaxis.set_minor_formatter(NullFormatter())

ax.set_axisbelow(True)
ax.grid(which="major", color="#939393", linewidth=1.1)
ax.grid(which="minor", color="#dcdcdc", linewidth=1.1)

ax.tick_params(which="both", direction="in", top=True, right=True, color=axis_col,
               labelcolor=axis_col, labelsize=28.5)
ax.tick_params(which="major", length=9, width=1.0)
ax.tick_params(which="minor", length=4.5, width=0.8)
ax.tick_params(axis="x", pad=13)
ax.tick_params(axis="y", pad=9)
for sp in ax.spines.values():
    sp.set_color(axis_col)
    sp.set_linewidth(1.3)
    sp.set_visible(True)

ax.set_xlabel("Frequency (Hz)", fontsize=33, color=axis_col)
ax.set_ylabel("Displacement m/\u221a(Hz)", fontsize=35, color=axis_col)
ax.xaxis.set_label_coords(0.5, -0.083)
ax.yaxis.set_label_coords(-0.054, 0.5)

leg = ax.legend(loc="lower left", bbox_to_anchor=(0.0209, 0.0072), borderaxespad=0,
                frameon=True, fancybox=False, edgecolor=axis_col, framealpha=1,
                fontsize=27.5, handlelength=1.45, handletextpad=0.12, borderpad=0.22,
                labelspacing=0.24)
leg.get_frame().set_linewidth(1.2)
leg.set_zorder(20)

# ---- annotations ----
note_font = ["Lato", "DejaVu Sans"]
ax.text(10 ** 0.021, 10 ** -11.178, "Extra, unknown noise", fontsize=41, family=note_font,
        ha="center", va="center", color="black", zorder=15)
ax.add_patch(FancyArrowPatch(posA=(10 ** -0.135, 10 ** -11.365), posB=(10 ** -0.525, 10 ** -12.05),
                             arrowstyle="simple,head_length=1.4,head_width=1.3,tail_width=0.5",
                             mutation_scale=20, color="black", shrinkA=0, shrinkB=0, zorder=15))

x_arrow = 10 ** 1.58
y_top, y_bot = 10 ** -13.12, 10 ** -13.756
y_mid = 10 ** ((-13.12 - 13.756) / 2)
for tip in (y_top, y_bot):
    ax.add_patch(FancyArrowPatch(posA=(x_arrow, y_mid), posB=(x_arrow, tip),
                                 arrowstyle="simple,head_length=1.25,head_width=1.4,tail_width=0.45",
                                 mutation_scale=20, color="black", shrinkA=0, shrinkB=0, zorder=15))
ax.text(10 ** 1.726, 10 ** -13.443, "x5", fontsize=41, family=note_font,
        ha="center", va="center", color="black", zorder=15)

fig.savefig("out.png", dpi=100, facecolor="white")
